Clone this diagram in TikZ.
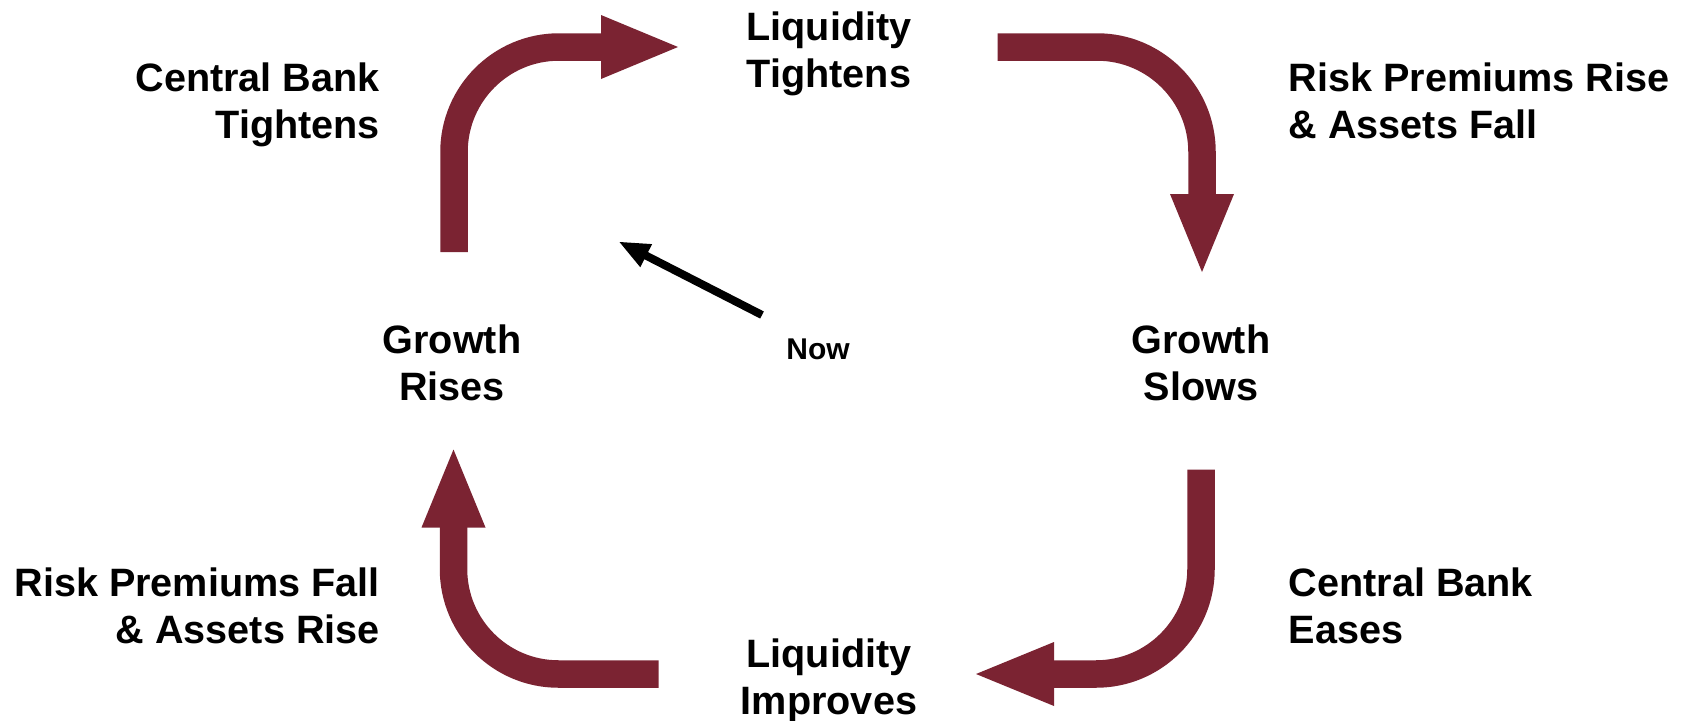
\documentclass[tikz,border=0pt]{standalone}
\usepackage{fontspec}
\setmainfont{Liberation Sans}
\usetikzlibrary{calc}
\definecolor{wine}{RGB}{123,35,50}
\begin{document}
\begin{tikzpicture}[x=1pt,y=-1pt,
  shaft/.style={draw=wine,line width=27.5pt,rounded corners=105pt},
  headfill/.style={fill=wine},
  stage/.style={font=\fontsize{39.6}{46.8}\selectfont\bfseries,inner sep=0pt,align=center,anchor=base},
  stageL/.style={stage,align=left,anchor=base west},
  stageR/.style={stage,align=right,anchor=base east}]
\useasboundingbox (0,0) rectangle (1688,720);

% cycle stages and transitions (positions give the baseline of the last line)
\node[stage]  (lt)  at (829,87)      {Liquidity\\Tightens};
\node[stageR] (cbt) at (380,138.5)   {Central Bank\\Tightens};
\node[stageL] (rpr) at (1288.5,138.5){Risk Premiums Rise\\\& Assets Fall};
\node[stage]  (gr)  at (452,400)     {Growth\\Rises};
\node[stage]  (gs)  at (1201,400)    {Growth\\Slows};
\node[stageL] (cbe) at (1288.5,643.5){Central Bank\\Eases};
\node[stageR] (rpf) at (380,643.5)   {Risk Premiums Fall\\\& Assets Rise};
\node[stage]  (li)  at (829,714)     {Liquidity\\Improves};
\node[font=\fontsize{30}{36}\selectfont\bfseries,inner sep=0pt,anchor=base] (now) at (818,359.5) {Now};

% growth rises -> liquidity tightens
\coordinate (a1s) at (454,252);
\coordinate (a1b) at (601,47);
\coordinate (a1t) at (678,47);
\draw[shaft] (a1s) |- ($(a1b)!3pt!(a1t)$);
\fill[headfill] ($(a1b)+(0,-32)$) -- (a1t) -- ($(a1b)+(0,32)$) -- cycle;

% liquidity tightens -> growth slows
\coordinate (a2s) at (997.5,47);
\coordinate (a2b) at (1202,194);
\coordinate (a2t) at (1202,272);
\draw[shaft] (a2s) -| ($(a2b)!3pt!(a2t)$);
\fill[headfill] ($(a2b)+(-32,0)$) -- (a2t) -- ($(a2b)+(32,0)$) -- cycle;

% growth slows -> liquidity improves
\coordinate (a3s) at (1201,469.5);
\coordinate (a3b) at (1054,674);
\coordinate (a3t) at (976,674);
\draw[shaft] (a3s) |- ($(a3b)!3pt!(a3t)$);
\fill[headfill] ($(a3b)+(0,-32)$) -- (a3t) -- ($(a3b)+(0,32)$) -- cycle;

% liquidity improves -> growth rises
\coordinate (a4s) at (658.5,674);
\coordinate (a4b) at (453.5,527.5);
\coordinate (a4t) at (453.5,449.5);
\draw[shaft] (a4s) -| ($(a4b)!3pt!(a4t)$);
\fill[headfill] ($(a4b)+(-32,0)$) -- (a4t) -- ($(a4b)+(32,0)$) -- cycle;

% current position marker
\coordinate (ns) at (762,315);
\coordinate (nt) at (619.5,242);
\coordinate (nb) at ($(nt)!30pt!(ns)$);
\draw[line width=8pt] (ns) -- ($(nb)!2pt!(nt)$);
\fill ($(nb)!13pt!90:(nt)$) -- (nt) -- ($(nb)!13pt!-90:(nt)$) -- cycle;
\end{tikzpicture}
\end{document}
